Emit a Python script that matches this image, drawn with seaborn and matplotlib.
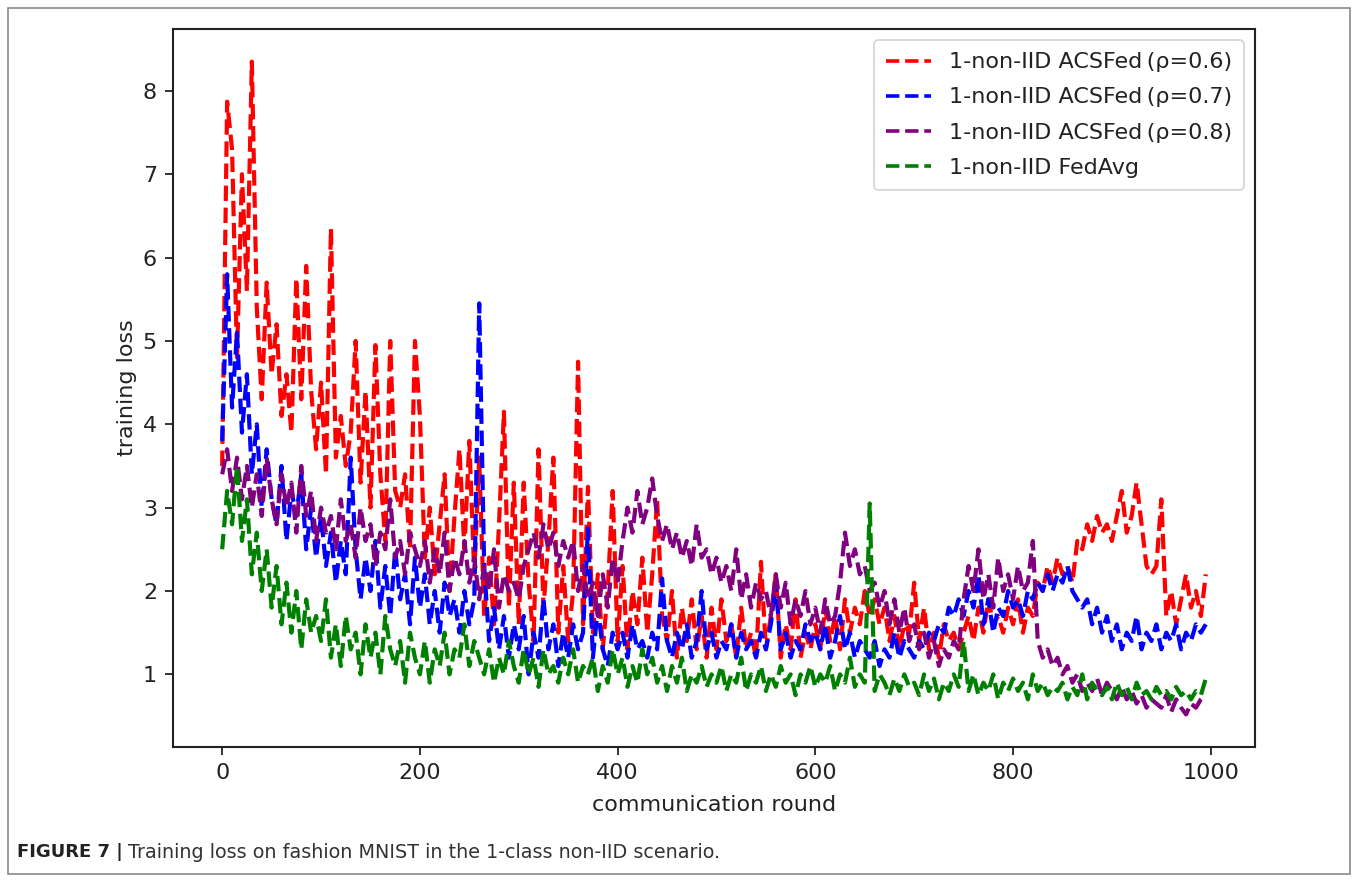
import numpy as np
import pandas as pd
import matplotlib
matplotlib.use("Agg")
import matplotlib.pyplot as plt
from matplotlib.patches import Rectangle
import seaborn as sns

# ---------------- data (one value every 5 rounds) -------------
rounds = list(range(0, 1000, 5))

loss_rho06 = [
    3.5, 7.87, 7.3, 4.8, 7.0, 5.6, 8.35, 5.4, 4.3, 5.7,
    4.6, 5.2, 4.1, 4.6, 3.9, 5.75, 4.3, 5.9, 4.4, 3.7,
    4.5, 3.4, 6.35, 3.6, 4.1, 3.5, 3.9, 5.0, 3.3, 4.4,
    3.0, 4.95, 3.4, 2.6, 5.0, 3.2, 3.0, 3.4, 2.5, 5.0,
    4.1, 2.4, 3.0, 2.2, 2.8, 3.4, 2.0, 2.9, 3.7, 2.5,
    3.8, 2.2, 3.6, 1.7, 2.4, 1.6, 2.8, 4.15, 1.8, 3.3,
    1.6, 3.3, 2.1, 1.4, 3.7, 1.8, 2.6, 3.6, 1.5, 2.3,
    1.4, 2.0, 4.75, 1.6, 3.25, 1.5, 2.2, 1.3, 2.0, 3.2,
    1.4, 2.3, 1.3, 2.0, 1.6, 2.4, 1.5, 2.2, 3.1, 1.7,
    1.4, 2.0, 1.2, 1.8, 1.4, 1.9, 1.3, 1.7, 1.2, 1.8,
    1.3, 1.9, 1.4, 1.6, 1.2, 1.8, 1.3, 1.5, 1.2, 2.35,
    1.3, 1.7, 2.2, 1.2, 1.6, 1.3, 1.9, 1.2, 1.5, 1.3,
    1.6, 1.3, 1.8, 1.4, 1.7, 1.3, 1.9, 1.5, 1.8, 1.6,
    2.0, 1.7, 1.9, 1.6, 1.8, 1.4, 1.7, 1.3, 1.6, 1.5,
    2.1, 1.4, 1.8, 1.3, 1.5, 1.2, 1.6, 1.4, 1.5, 1.3,
    1.5, 1.7, 1.4, 1.8, 1.5, 1.9, 1.6, 1.7, 1.5, 1.8,
    1.6, 1.9, 1.5, 1.8, 1.7, 2.1, 2.0, 2.3, 2.1, 2.4,
    2.2, 2.3, 2.1, 2.6, 2.5, 2.8, 2.6, 2.9, 2.7, 2.8,
    2.6, 2.9, 3.2, 2.7, 2.9, 3.3, 2.8, 2.3, 2.2, 2.3,
    3.1, 1.7, 2.0, 1.6, 1.9, 2.2, 1.8, 2.0, 1.7, 2.2,
]

loss_rho07 = [
    3.8, 5.8, 4.2, 5.1, 3.9, 4.6, 3.4, 4.0, 3.0, 3.7,
    3.1, 2.8, 3.5, 2.6, 3.2, 2.9, 3.4, 2.5, 3.0, 2.4,
    2.9, 2.3, 2.7, 2.1, 2.6, 2.2, 3.6, 2.5, 1.9, 2.4,
    2.0, 2.6, 1.8, 2.3, 1.7, 2.5, 1.9, 2.2, 1.6, 2.4,
    1.8, 2.2, 1.6, 2.0, 1.5, 2.1, 1.7, 1.9, 1.5, 2.0,
    1.6, 1.9, 5.45, 2.3, 1.4, 1.8, 1.3, 1.7, 1.2, 1.6,
    1.3, 1.7, 1.0, 1.5, 1.2, 1.9, 1.3, 1.6, 1.1, 1.5,
    1.2, 1.6, 1.3, 1.5, 2.75, 1.2, 1.8, 1.3, 1.1, 1.5,
    1.3, 1.5, 1.2, 1.6, 1.3, 1.4, 1.2, 1.5, 1.3, 2.15,
    1.4, 1.2, 1.5, 1.3, 1.6, 1.2, 1.4, 2.0, 1.3, 1.5,
    1.2, 1.4, 1.3, 1.6, 1.2, 1.5, 1.3, 1.4, 1.2, 1.5,
    1.3, 1.6, 2.1, 1.3, 1.5, 1.2, 1.4, 1.3, 1.6, 1.4,
    1.5, 1.3, 1.6, 1.2, 1.4, 1.7, 1.3, 1.5, 1.2, 1.4,
    1.3, 1.2, 1.4, 1.1, 1.3, 1.2, 1.5, 1.2, 1.4, 1.3,
    1.2, 1.4, 1.3, 1.5, 1.4, 1.6, 1.5, 1.8, 1.7, 1.9,
    1.7, 2.0, 1.8, 2.2, 1.6, 1.9, 1.5, 1.8, 1.7, 2.0,
    1.8, 1.9, 1.7, 2.0, 1.9, 2.1, 2.0, 2.2, 2.0, 2.2,
    2.1, 2.3, 2.0, 1.9, 1.8, 1.9, 1.6, 1.8, 1.5, 1.7,
    1.4, 1.6, 1.3, 1.5, 1.4, 1.7, 1.3, 1.5, 1.4, 1.6,
    1.3, 1.5, 1.4, 1.6, 1.3, 1.5, 1.4, 1.6, 1.5, 1.6,
]

loss_rho08 = [
    3.4, 3.7, 3.2, 3.6, 3.1, 3.5, 3.0, 3.4, 2.9, 3.6,
    3.1, 2.8, 3.4, 3.0, 3.3, 2.7, 3.5, 2.9, 3.2, 2.6,
    3.0, 2.7, 2.9, 2.5, 3.1, 2.6, 2.8, 2.4, 3.0, 2.6,
    2.8, 2.3, 2.7, 2.5, 3.1, 2.4, 2.6, 2.2, 2.7, 2.5,
    2.3, 2.6, 2.1, 2.5, 2.2, 2.7, 2.0, 2.4, 2.2, 2.6,
    2.1, 2.4, 1.9, 2.3, 2.0, 2.5, 1.8, 2.2, 2.0, 2.1,
    1.9, 2.3, 2.5, 2.7, 2.4, 2.8, 2.5, 2.7, 2.3, 2.6,
    2.4, 2.6, 2.0, 2.3, 1.9, 2.1, 1.7, 2.2, 1.8, 2.4,
    2.1, 2.6, 3.0, 2.7, 3.2, 2.8, 3.0, 3.35, 2.9, 2.6,
    2.8, 2.5, 2.7, 2.4, 2.6, 2.3, 2.8, 2.4, 2.5, 2.2,
    2.4, 2.1, 2.3, 2.0, 2.5, 1.9, 2.2, 1.8, 2.1, 1.9,
    2.0, 1.7, 2.2, 1.8, 2.1, 1.6, 1.9, 1.7, 2.0, 1.6,
    1.8, 1.5, 1.9, 1.6, 1.7, 2.1, 2.7, 2.3, 2.5, 2.2,
    2.3, 2.0, 2.1, 1.8, 2.0, 1.6, 1.9, 1.5, 1.8, 1.4,
    1.6, 1.3, 1.5, 1.2, 1.4, 1.1, 1.3, 1.2, 1.4, 1.3,
    1.9, 2.3, 2.0, 2.5, 1.9, 2.2, 1.8, 2.4, 2.0, 2.2,
    1.9, 2.3, 2.0, 2.1, 2.6, 1.4, 1.2, 1.3, 1.1, 1.2,
    1.0, 1.1, 0.9, 1.0, 0.8, 0.9, 0.8, 0.95, 0.75, 0.9,
    0.8, 0.7, 0.85, 0.7, 0.8, 0.65, 0.75, 0.6, 0.7, 0.65,
    0.6, 0.75, 0.55, 0.7, 0.6, 0.52, 0.65, 0.6, 0.7, 0.75,
]

loss_fedavg = [
    2.5, 3.2, 2.8, 3.5, 2.6, 3.1, 2.2, 2.7, 2.0, 2.5,
    1.8, 2.3, 1.6, 2.1, 1.5, 2.0, 1.3, 1.9, 1.5, 1.7,
    1.4, 1.9, 1.2, 1.6, 1.1, 1.7, 1.3, 1.5, 1.0, 1.6,
    1.2, 1.5, 1.0, 1.7, 1.3, 1.1, 1.4, 0.9, 1.5, 1.2,
    1.0, 1.4, 0.9, 1.3, 1.1, 1.5, 1.0, 1.3, 1.2, 1.6,
    1.1, 1.4, 1.2, 1.0, 1.3, 0.9, 1.2, 1.0, 1.4, 1.1,
    0.9, 1.3, 1.0, 1.2, 0.85, 1.3, 1.0, 1.1, 0.9, 1.2,
    1.0, 1.3, 0.9, 1.1, 1.0, 1.2, 0.8, 1.1, 0.9, 1.3,
    1.0, 1.2, 0.85, 1.1, 0.9, 1.3, 1.0, 1.2, 0.9, 1.1,
    0.8, 1.1, 0.9, 1.2, 0.8, 1.0, 0.9, 1.1, 0.85, 1.0,
    0.9, 1.1, 0.8, 1.0, 0.9, 1.2, 0.8, 1.0, 0.9, 1.1,
    0.8, 1.0, 0.85, 1.1, 0.9, 1.0, 0.75, 1.0, 0.9, 1.1,
    0.85, 1.0, 0.9, 1.1, 0.8, 1.0, 0.9, 1.2, 0.85, 1.0,
    0.9, 3.05, 0.8, 1.0, 0.9, 0.75, 0.95, 0.8, 1.0, 0.85,
    0.9, 0.75, 1.0, 0.8, 0.95, 0.7, 0.9, 0.8, 1.0, 0.85,
    1.4, 0.8, 1.0, 0.75, 0.9, 0.8, 1.0, 0.7, 0.9, 0.8,
    0.95, 0.8, 0.9, 0.7, 1.0, 0.8, 0.9, 0.75, 0.85, 0.8,
    0.9, 0.7, 0.85, 0.75, 1.0, 0.7, 0.9, 0.8, 0.75, 0.85,
    0.7, 0.9, 0.75, 0.85, 0.7, 0.9, 0.75, 0.8, 0.7, 0.85,
    0.75, 0.8, 0.7, 0.85, 0.75, 0.8, 0.7, 0.8, 0.75, 0.95,
]

series_labels = [
    "1-non-IID ACSFed\u2009(ρ=0.6)",
    "1-non-IID ACSFed\u2009(ρ=0.7)",
    "1-non-IID ACSFed\u2009(ρ=0.8)",
    "1-non-IID FedAvg",
]
series_colors = ["red", "blue", "purple", "green"]
series_values = [loss_rho06, loss_rho07, loss_rho08, loss_fedavg]

x_label = "communication round"
y_label = "training loss"
caption_bold = "FIGURE 7 |"
caption_text = "Training loss on fashion MNIST in the 1-class non-IID scenario."

# ---------------- figure ----------------
sns.set_style("ticks")
plt.rcParams["font.family"] = ["DejaVu Sans"]
plt.rcParams["axes.edgecolor"] = "#222222"
plt.rcParams["xtick.color"] = "#222222"
plt.rcParams["ytick.color"] = "#222222"
plt.rcParams["text.color"] = "#222222"
plt.rcParams["axes.labelcolor"] = "#222222"

W, H, DPI = 1358, 881, 100
fig = plt.figure(figsize=(W / DPI, H / DPI), dpi=DPI)
fig.patch.set_facecolor("white")

ax = fig.add_axes([173 / W, 1 - 747 / H, (1255 - 173) / W, (747 - 29) / H])
ax.set_facecolor("white")

frames = []
for lab, vals in zip(series_labels, series_values):
    frames.append(pd.DataFrame({"round": rounds, "loss": vals, "method": lab}))
df = pd.concat(frames, ignore_index=True)

for lab, col in zip(series_labels, series_colors):
    sub = df[df["method"] == lab]
    sns.lineplot(data=sub, x="round", y="loss", ax=ax, color=col, label=lab,
                 linestyle="--", linewidth=3.0, estimator=None, sort=False)

ax.set_xticks([0, 200, 400, 600, 800, 1000])
ax.set_yticks([1, 2, 3, 4, 5, 6, 7, 8])
ax.tick_params(axis="both", labelsize=16, length=5.5, width=1.3, pad=6)
for sp in ax.spines.values():
    sp.set_visible(True)
    sp.set_linewidth(1.5)
ax.set_xlabel(x_label, fontsize=16, labelpad=9)
ax.set_ylabel(y_label, fontsize=16, labelpad=4)

leg = ax.legend(loc="upper right", fontsize=16, frameon=True, fancybox=True,
                framealpha=0.8, edgecolor="#cccccc", handlelength=2.0,
                labelspacing=0.68, borderpad=0.55)
leg.get_frame().set_linewidth(1.3)
for h in leg.get_lines():
    h.set_linewidth(2.6)

# outer border of the figure panel
fig.patches.append(Rectangle((8 / W, 1 - 874 / H), (1350 - 8) / W, (874 - 8) / H,
                             transform=fig.transFigure, fill=False,
                             edgecolor="#8a8a8a", linewidth=1.2))

# caption
t1 = fig.text(17 / W, 1 - 852 / H, caption_bold, fontsize=13, fontweight="bold",
              family=["DejaVu Sans"], va="center", ha="left", color="#222222")
ann = plt.annotate(caption_text, xy=(1, 0.5), xycoords=t1, xytext=(4, 0),
                   textcoords="offset points", fontsize=13.8,
                   family=["DejaVu Sans"], va="center", ha="left",
                   color="#333333", annotation_clip=False)

fig.savefig("out.png", dpi=DPI, facecolor="white")
